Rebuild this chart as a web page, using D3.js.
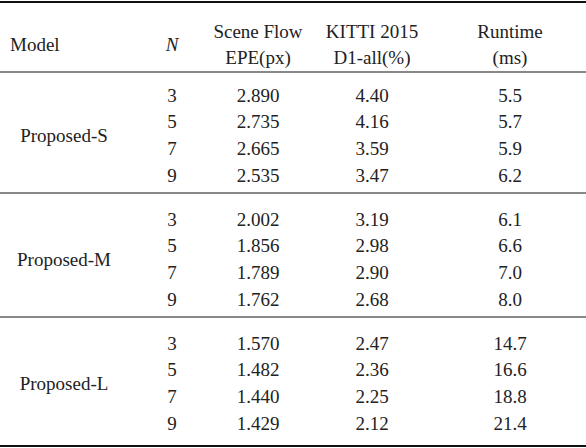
<!DOCTYPE html>
<html><head><meta charset="utf-8">
<script src="https://cdn.jsdelivr.net/npm/d3@7"></script>
<style>body{margin:0;background:#fff}text{font-family:"Liberation Serif","DejaVu Serif",serif;font-size:19px;fill:#222}</style>
</head><body><svg id="t" width="586" height="448"></svg>
<script>
var models = ["Proposed-S", "Proposed-M", "Proposed-L"];
var nValues = ["3", "5", "7", "9"];
var epe = [["2.890","2.735","2.665","2.535"],["2.002","1.856","1.789","1.762"],["1.570","1.482","1.440","1.429"]];
var d1all = [["4.40","4.16","3.59","3.47"],["3.19","2.98","2.90","2.68"],["2.47","2.36","2.25","2.12"]];
var runtime = [["5.5","5.7","5.9","6.2"],["6.1","6.6","7.0","8.0"],["14.7","16.6","18.8","21.4"]];

var svg = d3.select("#t");
var colX = d3.scaleOrdinal().domain(["model","n","epe","d1","rt"]).range([64, 172, 258, 372, 510]);
// row index within group -> y
var rowY = d3.scaleLinear().domain([0, 3]).range([95, 175]);
var groupOff = d3.scaleLinear().domain([0, 2]).range([0, 248]);

function txt(x, y, s, anchor, style) {
  var t = svg.append("text").attr("x", x).attr("y", y).attr("dy", "0.35em")
    .attr("text-anchor", anchor || "middle").text(s);
  if (style) t.style("font-style", style);
  return t;
}
function line(y, w) {
  svg.append("line").attr("x1", 0).attr("x2", 586).attr("y1", y).attr("y2", y)
    .attr("stroke", "#111").attr("stroke-width", w);
}

// header
txt(10, 44, "Model", "start");
txt(colX("n"), 44, "N", "middle", "italic");
txt(colX("epe"), 31, "Scene Flow"); txt(colX("epe"), 57, "EPE(px)");
txt(colX("d1"), 31, "KITTI 2015"); txt(colX("d1"), 57, "D1-all(%)");
txt(colX("rt"), 31, "Runtime"); txt(colX("rt"), 57, "(ms)");

line(2, 2);
line(72, 1);
models.forEach(function (m, g) {
  var off = groupOff(g);
  txt(colX("model"), off + (rowY(0) + rowY(3)) / 2, m);
  nValues.forEach(function (n, i) {
    var y = off + rowY(i);
    txt(colX("n"), y, n);
    txt(colX("epe"), y, epe[g][i]);
    txt(colX("d1"), y, d1all[g][i]);
    txt(colX("rt"), y, runtime[g][i]);
  });
  if (g > 0) line(off + rowY(0) - 26, 1);
});
line(446, 2);
</script></body></html>
